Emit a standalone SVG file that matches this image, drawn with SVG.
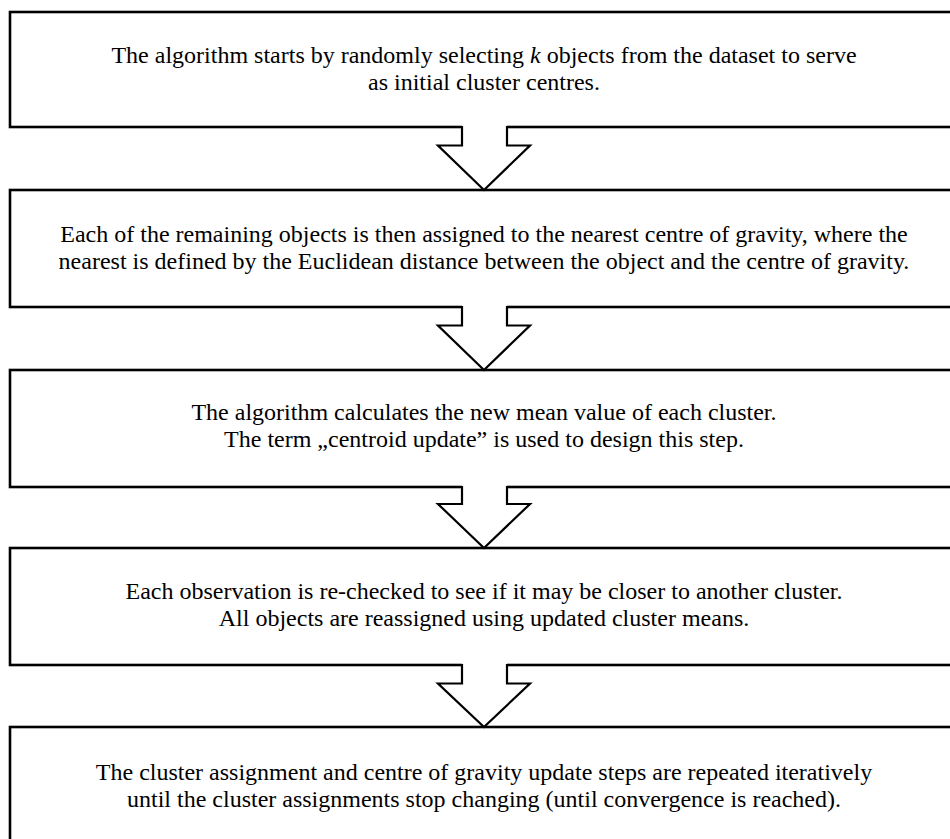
<svg xmlns="http://www.w3.org/2000/svg" width="950" height="839" viewBox="0 0 950 839">
<style>
.box{fill:#fff;stroke:#000;stroke-width:2.6}
.txt{font-family:"Liberation Serif","Times New Roman",serif;font-size:24px;fill:#000;text-anchor:middle}
.ah-fill{fill:#fff;stroke:none}
.ah{fill:none;stroke:#000;stroke-width:2.2;stroke-linejoin:miter}
</style>
<rect width="950" height="839" fill="#fff"/>
<g id="node1">
<rect class="box" x="10" y="12" width="948" height="115"/>
<text class="txt"><tspan x="484" y="63">The algorithm starts by randomly selecting <tspan font-style="italic">k</tspan> objects from the dataset to serve</tspan><tspan x="484" y="90">as initial cluster centres.</tspan></text>
</g>
<g id="node2">
<rect class="box" x="10" y="190" width="948" height="117"/>
<text class="txt"><tspan x="484" y="242">Each of the remaining objects is then assigned to the nearest centre of gravity, where the</tspan><tspan x="484" y="269">nearest is defined by the Euclidean distance between the object and the centre of gravity.</tspan></text>
</g>
<g id="node3">
<rect class="box" x="10" y="370" width="948" height="117"/>
<text class="txt"><tspan x="484" y="420">The algorithm calculates the new mean value of each cluster.</tspan><tspan x="484" y="447">The term „centroid update” is used to design this step.</tspan></text>
</g>
<g id="node4">
<rect class="box" x="10" y="548" width="948" height="117"/>
<text class="txt"><tspan x="484" y="599">Each observation is re-checked to see if it may be closer to another cluster.</tspan><tspan x="484" y="626">All objects are reassigned using updated cluster means.</tspan></text>
</g>
<g id="node5">
<rect class="box" x="10" y="727" width="948" height="140"/>
<text class="txt"><tspan x="484" y="780">The cluster assignment and centre of gravity update steps are repeated iteratively</tspan><tspan x="484" y="807">until the cluster assignments stop changing (until convergence is reached).</tspan></text>
</g>
<g id="connectors">
<polygon class="ah-fill" points="462,124 462,145.5 438,145.5 484,190 530,145.5 507,145.5 507,124"/>
<polyline class="ah" points="462,126 462,145.5 438,145.5 484,190 530,145.5 507,145.5 507,126"/>
<polygon class="ah-fill" points="462,304 462,325.5 438,325.5 484,370 530,325.5 507,325.5 507,304"/>
<polyline class="ah" points="462,306 462,325.5 438,325.5 484,370 530,325.5 507,325.5 507,306"/>
<polygon class="ah-fill" points="462,484 462,504 438,504 484,548 530,504 507,504 507,484"/>
<polyline class="ah" points="462,486 462,504 438,504 484,548 530,504 507,504 507,486"/>
<polygon class="ah-fill" points="462,662 462,683.5 438,683.5 484,727 530,683.5 507,683.5 507,662"/>
<polyline class="ah" points="462,664 462,683.5 438,683.5 484,727 530,683.5 507,683.5 507,664"/>
</g>
</svg>
